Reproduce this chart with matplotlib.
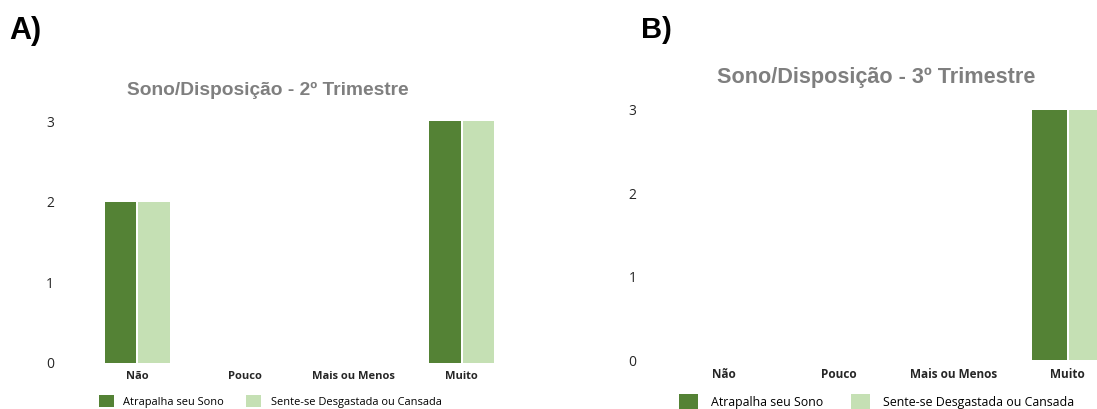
import numpy as np
import matplotlib.pyplot as plt

# dados
categorias = ["Não", "Pouco", "Mais ou Menos", "Muito"]
series = ["Atrapalha seu Sono", "Sente-se Desgastada ou Cansada"]
tri2_sono = [2, 0, 0, 3]
tri2_cansada = [2, 0, 0, 3]
tri3_sono = [0, 0, 0, 3]
tri3_cansada = [0, 0, 0, 3]
yticks = [0, 1, 2, 3]

escuro = "#548235"
claro = "#C5E0B4"

W, H = 1097, 409
fig = plt.figure(figsize=(W / 100, H / 100), dpi=100)


def painel(rect, sono, cansada, titulo, titulo_xy, titulo_size, letra, letra_xy, letra_size,
           largura, deslocamento, pad_y, pad_x, cat_size, leg_xy, leg_size, handle, textpad, colsp):
    ax = fig.add_axes([rect[0] / W, 1 - rect[3] / H, (rect[1] - rect[0]) / W, (rect[3] - rect[2]) / H])
    x = np.arange(len(categorias))
    ax.bar(x - deslocamento, sono, width=largura, color=escuro, label=series[0])
    ax.bar(x + deslocamento, cansada, width=largura, color=claro, label=series[1])
    ax.set_xlim(-0.5, 3.5)
    ax.set_ylim(0, 3)
    ax.set_yticks(yticks)
    ax.set_xticks(x)
    ax.set_xticklabels(categorias, fontfamily="Open Sans", fontweight="bold", fontsize=cat_size, color="#262626")
    for lb in ax.get_yticklabels():
        lb.set_fontfamily("Open Sans")
        lb.set_fontsize(10)
        lb.set_color("#262626")
    ax.tick_params(axis="y", length=0, pad=pad_y)
    ax.tick_params(axis="x", length=0, pad=pad_x)
    for s in ax.spines.values():
        s.set_visible(False)
    fig.text(titulo_xy[0] / W, 1 - titulo_xy[1] / H, titulo, ha="center", va="center",
             fontfamily="Liberation Sans", fontweight="bold", fontsize=titulo_size, color="#7f7f7f")
    fig.text(letra_xy[0] / W, 1 - letra_xy[1] / H, letra, ha="left", va="center",
             fontfamily="Liberation Sans", fontweight="bold", fontsize=letra_size, color="black")
    fig.legend(*ax.get_legend_handles_labels(), loc="upper left",
               bbox_to_anchor=(leg_xy[0] / W, 1 - leg_xy[1] / H), ncol=2, frameon=False,
               prop={"family": "Open Sans", "size": leg_size}, handlelength=handle, handleheight=handle,
               handletextpad=textpad, columnspacing=colsp, borderpad=0, borderaxespad=0)
    return ax


painel((83, 516, 121, 363), tri2_sono, tri2_cansada, "Sono/Disposição - 2º Trimestre", (268, 90), 13.8,
       "A)", (9, 31), 22, 0.29, 0.155, 21, 6, 8, (99, 395), 7.9, 1.35, 0.85, 2.05)
painel((667, 1125, 110, 360), tri3_sono, tri3_cansada, "Sono/Disposição - 3º Trimestre", (876, 78), 15.6,
       "B)", (641, 30), 21, 0.305, 0.16, 22, 5.5, 8.5, (679, 394), 8.9, 1.55, 1.0, 2.3)

fig.savefig("out.png", dpi=100)
